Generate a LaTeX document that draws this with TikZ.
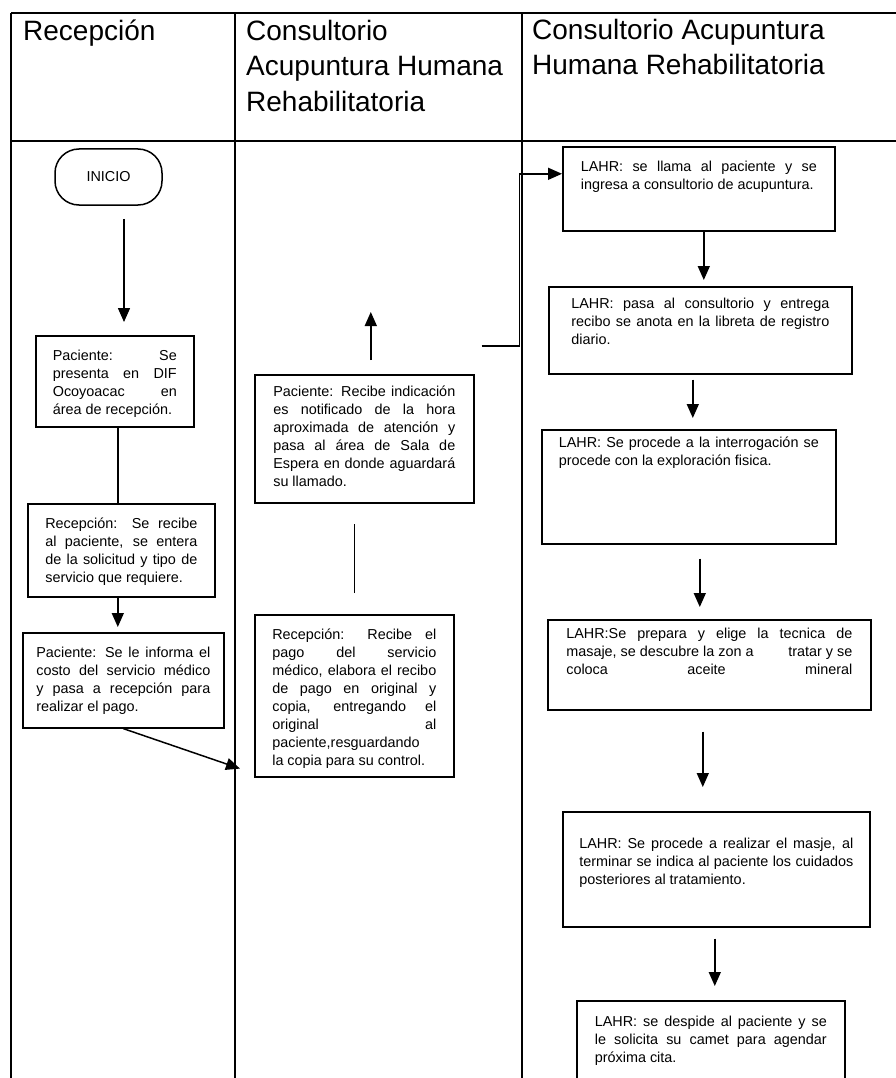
\documentclass[tikz,border=0pt]{standalone}
\usepackage{fontspec}
\setmainfont{Liberation Sans}
\usetikzlibrary{arrows.meta}
\tolerance=9999
\hyphenpenalty=10000
\hbadness=10000
\tikzset{
    laneLine/.style={line width=1.3pt},
    laneTitle/.style={anchor=north west, inner sep=0pt, align=left, font=\fontsize{28}{35.5}\selectfont},
    startbox/.style={draw, line width=1.5pt, rounded corners=24pt, minimum width=107pt, minimum height=56pt, font=\fontsize{14.4}{18}\selectfont},
    stepbox/.style={draw, line width=1.6pt, anchor=north west, inner sep=0pt, font=\fontsize{14.4}{18}\selectfont},
    flowLine/.style={line width=1.5pt},
    flowArrow/.style={-{Triangle[length=14pt, width=12pt]}, line width=1.5pt},
}
\newcommand{\stepBox}[7][14pt]{
    \node[stepbox, minimum width=#4] (#2) at (#3) {\parbox[t][#5][t]{#6}{\vspace*{#1}#7}};
}

\begin{document}
\begin{tikzpicture}[x=1pt, y=-1pt]
    \useasboundingbox (0,0) rectangle (896,1078);
    \clip (0,0) rectangle (896,1078);

    % carriles
    \draw[laneLine] (11,13) -- (896,13);
    \draw[laneLine] (11,141) -- (896,141);
    \foreach \lx in {11, 235, 522} {
        \draw[laneLine] (\lx,13) -- (\lx,1078);
    }

    \node[laneTitle] (recTitle) at (23,20) {Recepción};
    \node[laneTitle] (conTitle) at (246,20) {Consultorio\\Acupuntura Humana\\Rehabilitatoria};
    \node[laneTitle] (lahrTitle) at (532,19) {Consultorio Acupuntura\\Humana Rehabilitatoria};

    % recepcion
    \node[startbox] (inicio) at (108.5,177) {INICIO};
    \stepBox{pac1}{35,335}{158pt}{91pt}{124pt}{Paciente: Se\linebreak presenta en DIF\linebreak Ocoyoacac en\linebreak área de recepción.}
    \stepBox{recep1}{27,503}{187pt}{93pt}{152pt}{Recepción: Se recibe\linebreak al paciente, se entera\linebreak de la solicitud y tipo de\linebreak servicio que requiere.}
    \stepBox{pac2}{22,632}{201pt}{95pt}{174pt}{Paciente: Se le informa el\linebreak costo del servicio médico\linebreak y pasa a recepción para\linebreak realizar el pago.}

    % consultorio
    \stepBox[11pt]{espera}{254,374}{219pt}{128pt}{182pt}{Paciente: Recibe indicación\linebreak es notificado de la hora\linebreak aproximada de atención y\linebreak pasa al área de Sala de\linebreak Espera en donde aguardará\linebreak su llamado.}
    \stepBox{pago}{254,614}{199pt}{162pt}{164pt}{Recepción: Recibe el\linebreak pago del servicio\linebreak médico, elabora el recibo\linebreak de pago en original y\linebreak copia, entregando el\linebreak original al\linebreak paciente,resguardando\newline la copia para su control.}

    % LAHR
    \stepBox{llama}{562,146}{272pt}{84pt}{236pt}{LAHR: se llama al paciente y se\linebreak ingresa a consultorio de acupuntura.}
    \stepBox[11pt]{registro}{548,286}{303pt}{87pt}{258pt}{LAHR: pasa al consultorio y entrega\linebreak recibo se anota en la libreta de registro\linebreak diario.}
    \stepBox[7pt]{interrog}{541,429}{294pt}{114pt}{260pt}{LAHR: Se procede a la interrogación se\linebreak procede con la exploración fisica.}
    \stepBox[8pt]{masaje}{547,619}{323pt}{90pt}{286pt}{LAHR:Se prepara y elige la tecnica de\linebreak masaje, se descubre la zon a \hfill tratar y se\linebreak coloca\hfill aceite\hfill mineral}
    \stepBox[26pt]{sesion}{562,811}{307pt}{115pt}{274pt}{LAHR: Se procede a realizar el masje, al\linebreak terminar se indica al paciente los cuidados\linebreak posteriores al tratamiento.}
    \stepBox[15pt]{despide}{576,1000}{268pt}{100pt}{232pt}{LAHR: se despide al paciente y se\linebreak le solicita su camet para agendar\linebreak próxima cita.}

    \draw[flowArrow, shorten <=13pt, shorten >=13pt] ([xshift=15.5pt]inicio.south) -- ([xshift=15.5pt]inicio.south |- pac1.north);
    \draw[flowLine] ([xshift=3pt]pac1.south) -- ([xshift=3pt]pac1.south |- recep1.north);
    \draw[flowArrow, shorten >=5pt] ([xshift=-3.5pt]recep1.south) -- ([xshift=-3.5pt]recep1.south |- pac2.north);
    \draw[flowArrow] (pac2.south) -- ([xshift=-14pt, yshift=9pt]pago.south west);
    \draw[flowLine, shorten <=21pt, shorten >=20pt] (pago.north) -- (pago.north |- espera.south);
    \draw[flowArrow, shorten <=14pt] ([xshift=6.5pt]espera.north) -- ++(0,-62);
    \draw[flowArrow] ([xshift=7pt, yshift=28pt]espera.north east) -- ++(38,0) |- ([yshift=15pt]llama.west);

    \draw[flowArrow, shorten >=6pt] ([xshift=5pt]llama.south) -- ([xshift=5pt]llama.south |- registro.north);
    \draw[flowArrow, shorten <=5pt, shorten >=11pt] ([xshift=-7.5pt]registro.south) -- ([xshift=-7.5pt]registro.south |- interrog.north);
    \draw[flowArrow, shorten <=14pt, shorten >=12pt] ([xshift=11pt]interrog.south) -- ([xshift=11pt]interrog.south |- masaje.north);
    \draw[flowArrow, shorten <=21pt, shorten >=24pt] ([xshift=-6.5pt]masaje.south) -- ([xshift=-6.5pt]masaje.south |- sesion.north);
    \draw[flowArrow, shorten <=11pt, shorten >=14pt] ([xshift=-1.5pt]sesion.south) -- ([xshift=-1.5pt]sesion.south |- despide.north);
\end{tikzpicture}
\end{document}
